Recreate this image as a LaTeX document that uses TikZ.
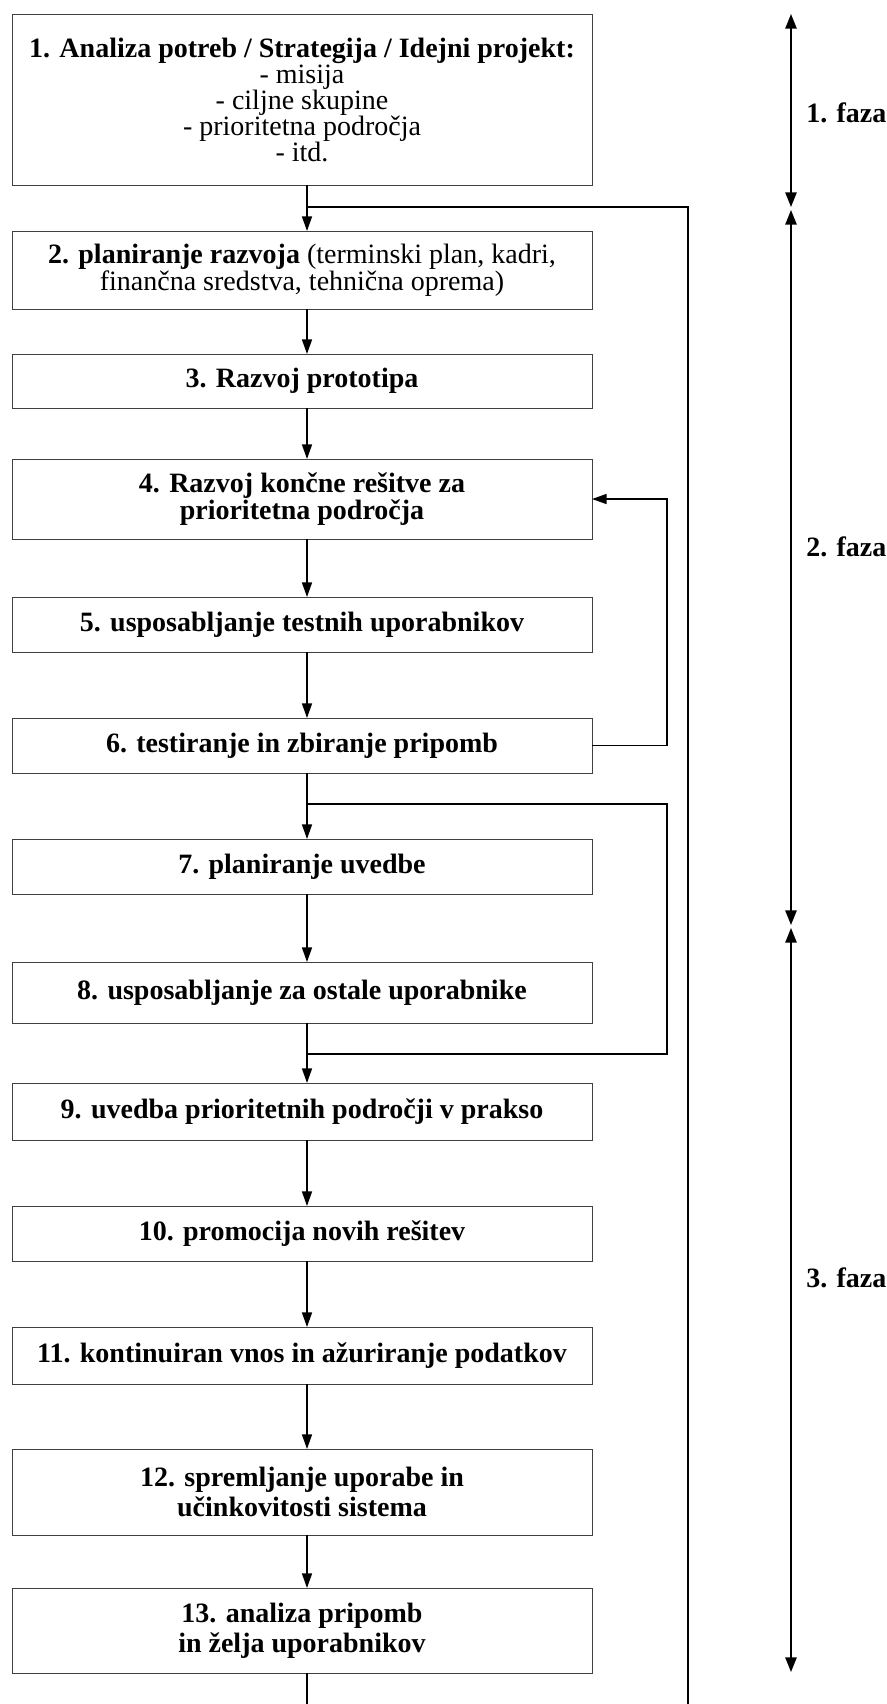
\documentclass[tikz,border=0pt]{standalone}
\usepackage{fontspec}
\setmainfont{Liberation Serif}
\usetikzlibrary{arrows.meta}

\begin{document}
\begin{tikzpicture}[
  x=0.75pt, y=-0.75pt,
  stepbox/.style={draw=black!75, line width=0.5pt, rectangle, inner sep=0pt, outer sep=0pt,
    minimum width=435pt, align=center,
    font=\fontsize{21pt}{20.5pt}\selectfont\bfseries},
  conn/.style={line width=1.2pt, black},
  flow/.style={conn, -{Triangle[length=11pt,width=7.5pt]}},
  phase/.style={line width=1.2pt, black, {Triangle[length=11pt,width=8.5pt]}-{Triangle[length=11pt,width=8.5pt]}},
  phaselabel/.style={anchor=west, inner sep=0pt, font=\fontsize{21pt}{24pt}\selectfont\bfseries}
]
\useasboundingbox (0,0) rectangle (886,1704);

% process steps
\node[stepbox, minimum height=128.25pt, font=\fontsize{21pt}{19.5pt}\selectfont\bfseries] (b1) at (302,99.5)
  {1. Analiza potreb / Strategija / Idejni projekt:\\
   \mdseries - misija\\ \mdseries - ciljne skupine\\ \mdseries - prioritetna področja\\ \mdseries - itd.};
\node[stepbox, minimum height=58.5pt, font=\fontsize{21pt}{19pt}\selectfont\bfseries] (b2) at (302,270)
  {2. planiranje razvoja \mdseries(terminski plan, kadri,\\ \mdseries finančna sredstva, tehnična oprema)};
\node[stepbox, minimum height=40.5pt] (b3) at (302,381) {3. Razvoj prototipa};
\node[stepbox, minimum height=60pt] (b4) at (302,499) {4. Razvoj končne rešitve za\\ prioritetna področja};
\node[stepbox, minimum height=41.25pt] (b5) at (302,624.5) {5. usposabljanje testnih uporabnikov};
\node[stepbox, minimum height=41.25pt] (b6) at (302,745.5) {6. testiranje in zbiranje pripomb};
\node[stepbox, minimum height=41.25pt] (b7) at (302,866.5) {7. planiranje uvedbe};
\node[stepbox, minimum height=45.75pt] (b8) at (302,992.5) {8. usposabljanje za ostale uporabnike};
\node[stepbox, minimum height=42.75pt] (b9) at (302,1111.5) {9. uvedba prioritetnih področji v prakso};
\node[stepbox, minimum height=41.25pt] (b10) at (302,1233.5) {10. promocija novih rešitev};
\node[stepbox, minimum height=42.75pt] (b11) at (302,1355.5) {11. kontinuiran vnos in ažuriranje podatkov};
\node[stepbox, minimum height=64.5pt, font=\fontsize{21pt}{22.5pt}\selectfont\bfseries] (b12) at (302,1492)
  {12. spremljanje uporabe in\\ učinkovitosti sistema};
\node[stepbox, minimum height=63.75pt, font=\fontsize{21pt}{22.5pt}\selectfont\bfseries] (b13) at (302,1630.5)
  {13. analiza pripomb\\ in želja uporabnikov};

% guide coordinates
\coordinate (ax) at (307,0);
\coordinate (lp) at (667,0);
\coordinate (rl) at (688,0);
\coordinate (j1) at (307,207);
\coordinate (j2) at (307,804);
\coordinate (j3) at (307,1054);
\coordinate (bot) at (307,1704);

% main flow
\draw[flow] (b1.south -| ax) -- (b2.north -| ax);
\draw[flow] (b2.south -| ax) -- (b3.north -| ax);
\draw[flow] (b3.south -| ax) -- (b4.north -| ax);
\draw[flow] (b4.south -| ax) -- (b5.north -| ax);
\draw[flow] (b5.south -| ax) -- (b6.north -| ax);
\draw[flow] (b6.south -| ax) -- (b7.north -| ax);
\draw[flow] (b7.south -| ax) -- (b8.north -| ax);
\draw[flow] (b8.south -| ax) -- (b9.north -| ax);
\draw[flow] (b9.south -| ax) -- (b10.north -| ax);
\draw[flow] (b10.south -| ax) -- (b11.north -| ax);
\draw[flow] (b11.south -| ax) -- (b12.north -| ax);
\draw[flow] (b12.south -| ax) -- (b13.north -| ax);
\draw[conn] (b13.south -| ax) -- (bot);

% long return line on the right
\draw[conn] (j1) -- (j1 -| rl) -- (bot -| rl);

% feedback from testing back to development
\draw[flow] (b6.east) -- (b6.east -| lp) -- (b4.east -| lp) -- (b4.east);

% bypass around steps 7 and 8
\draw[conn] (j2) -- (j2 -| lp) -- (j3 -| lp) -- (j3);

% phases
\coordinate (p0) at (791,14);
\coordinate (p1) at (791,207);
\coordinate (p2) at (791,210);
\coordinate (p3) at (791,925);
\coordinate (p4) at (791,928);
\coordinate (p5) at (791,1672);
\draw[phase] (p0) -- (p1);
\draw[phase] (p2) -- (p3);
\draw[phase] (p4) -- (p5);
\node[phaselabel] (f1) at (806,113) {1. faza};
\node[phaselabel] (f2) at (806,547) {2. faza};
\node[phaselabel] (f3) at (806,1278) {3. faza};
\end{tikzpicture}
\end{document}
